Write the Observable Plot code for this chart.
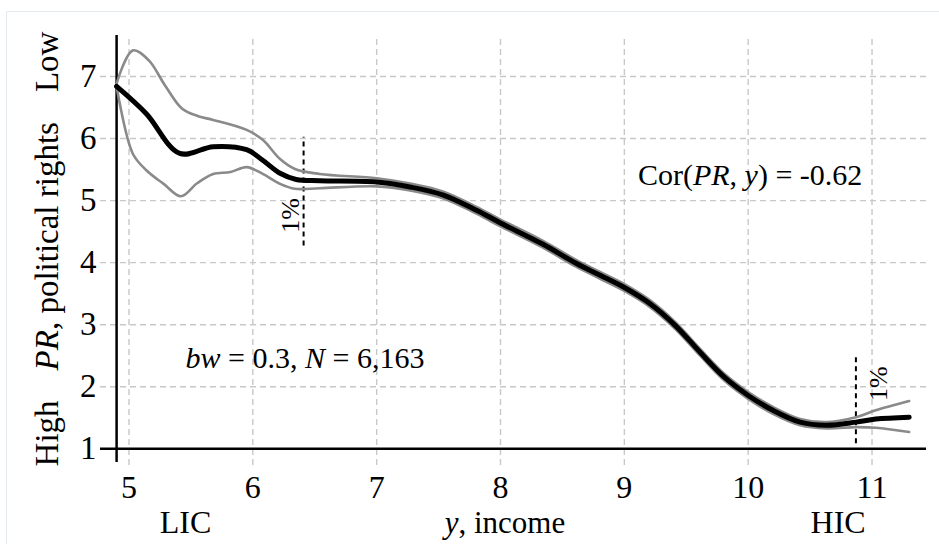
<!DOCTYPE html>
<html>
<head>
<meta charset="utf-8">
<script src="https://cdn.jsdelivr.net/npm/d3@7"></script>
<script src="https://cdn.jsdelivr.net/npm/@observablehq/plot@0.6"></script>
<style>
  html, body { margin: 0; padding: 0; background: #fff; }
  #wrap { position: relative; width: 939px; height: 544px; overflow: hidden; }
  #border { position: absolute; left: 6px; top: 11px; width: 1000px; height: 600px;
            border: 1.5px solid #e4eaee; box-sizing: border-box; }
  #chart { position: absolute; left: 0; top: 0; }
  #chart svg, #chart svg text { font-family: "Liberation Serif", "Times New Roman", serif !important; }
</style>
</head>
<body>
<div id="wrap"><div id="border"></div><div id="chart"></div></div>
<script>
// ---- data ----
const mainX  = [4.9, 5.14, 5.41, 5.68, 5.95, 6.08, 6.22, 6.35, 6.54, 7.0, 7.27, 7.54, 7.81, 8.0, 8.34, 8.61, 8.80, 9.0, 9.2, 9.41, 9.61, 9.81, 10.0, 10.2, 10.42, 10.63, 10.87, 11.03, 11.30];
const mainY  = [6.84, 6.40, 5.76, 5.87, 5.82, 5.65, 5.44, 5.34, 5.32, 5.30, 5.22, 5.09, 4.84, 4.64, 4.30, 3.99, 3.80, 3.60, 3.35, 2.99, 2.56, 2.15, 1.86, 1.62, 1.43, 1.38, 1.43, 1.48, 1.51];
const upperX = [4.9, 5.03, 5.16, 5.29, 5.43, 5.56, 5.68, 5.95, 6.08, 6.22, 6.34, 6.54, 7.0, 7.27, 7.54, 7.81, 8.0, 8.34, 8.61, 8.80, 9.0, 9.2, 9.41, 9.61, 9.81, 10.0, 10.2, 10.42, 10.63, 10.87, 11.03, 11.30];
const upperY = [6.89, 7.42, 7.26, 6.86, 6.48, 6.36, 6.30, 6.14, 5.98, 5.67, 5.51, 5.43, 5.36, 5.275, 5.145, 4.895, 4.695, 4.355, 4.045, 3.855, 3.655, 3.405, 3.045, 2.615, 2.205, 1.915, 1.675, 1.48, 1.43, 1.51, 1.62, 1.77];
const lowerX = [4.9, 5.03, 5.14, 5.28, 5.42, 5.55, 5.68, 5.82, 5.95, 6.08, 6.22, 6.34, 6.54, 7.0, 7.27, 7.54, 7.81, 8.0, 8.34, 8.61, 8.80, 9.0, 9.2, 9.41, 9.61, 9.81, 10.0, 10.2, 10.42, 10.63, 10.87, 11.03, 11.30];
const lowerY = [6.84, 5.76, 5.49, 5.27, 5.07, 5.28, 5.43, 5.46, 5.54, 5.43, 5.27, 5.19, 5.20, 5.23, 5.165, 5.035, 4.785, 4.585, 4.245, 3.935, 3.745, 3.545, 3.295, 2.935, 2.505, 2.095, 1.805, 1.565, 1.38, 1.33, 1.35, 1.34, 1.27];

const xTicks = [5, 6, 7, 8, 9, 10, 11];
const yTicks = [1, 2, 3, 4, 5, 6, 7];

// 1% cut-off markers: x position, y from, y to
const cutX    = [6.41, 10.87];
const cutY1   = [4.27, 1.08];
const cutY2   = [6.02, 2.50];
const cutLabX = [6.37, 11.12];
const cutLabY = [4.76, 2.05];
const cutLabel = ["1%", "1%"];

// scale extents
const xDomain = [4.77, 11.44];
const yDomain = [0.731, 7.661];
const xAxisStart = 4.9;   // where the y axis line sits
const yAxisBottom = 0.78;

const toPts = (xs, ys) => xs.map((x, i) => ({x, y: ys[i]}));
const main = toPts(mainX, mainY);
const upper = toPts(upperX, upperY);
const lower = toPts(lowerX, lowerY);
const cuts = cutX.map((x, i) => ({x, y1: cutY1[i], y2: cutY2[i], lx: cutLabX[i], ly: cutLabY[i], t: cutLabel[i]}));

const FONT = "'Liberation Serif', 'Times New Roman', serif";
const grid = {stroke: "#c8c8c8", strokeWidth: 1.4, strokeDasharray: "6,4"};

const plot = Plot.plot({
  width: 939, height: 544,
  marginLeft: 100, marginRight: 13, marginTop: 35, marginBottom: 79,
  style: {fontFamily: FONT, fontSize: "33px", background: "transparent", color: "#000"},
  x: {domain: xDomain},
  y: {domain: yDomain},
  marks: [
    Plot.ruleX(xTicks, {x: d => d, y1: yDomain[0], y2: yDomain[1], ...grid}),
    Plot.ruleY(yTicks, {y: d => d, x1: xDomain[0], x2: xDomain[1], ...grid}),
    Plot.axisX({ticks: xTicks, tickFormat: "d", tickSize: 0, tickPadding: 10, label: null, fontSize: 32}),
    Plot.axisY({ticks: yTicks, tickFormat: "d", tickSize: 0, tickPadding: 4, label: null, fontSize: 33}),
    Plot.ruleY([1], {x1: xDomain[0], x2: xDomain[1], stroke: "#000", strokeWidth: 2.5}),
    Plot.ruleX([xAxisStart], {y1: yAxisBottom, y2: yDomain[1], stroke: "#000", strokeWidth: 2.5}),
    Plot.ruleX(cuts, {x: "x", y1: "y1", y2: "y2", stroke: "#000", strokeWidth: 2, strokeDasharray: "5,4"}),
    Plot.text(cuts, {x: "lx", y: "ly", text: "t", rotate: -90, fontSize: 26, textAnchor: "middle", lineAnchor: "bottom", fill: "#000"}),
    Plot.line(upper, {x: "x", y: "y", stroke: "#8a8a8a", strokeWidth: 2.6, curve: "catmull-rom"}),
    Plot.line(lower, {x: "x", y: "y", stroke: "#8a8a8a", strokeWidth: 2.6, curve: "catmull-rom"}),
    Plot.line(main, {x: "x", y: "y", stroke: "#000", strokeWidth: 5, curve: "catmull-rom"})
  ]
});
document.getElementById("chart").appendChild(plot);

// ---- rich text (mixed italic) placed through the plot's scales ----
const sx = v => plot.scale("x").apply(v);
const sy = v => plot.scale("y").apply(v);
const svg = d3.select(plot);
function rich(px, py, parts, {size = 33, anchor = "middle", rotate = 0} = {}) {
  const t = svg.append("text")
    .attr("transform", `translate(${px},${py}) rotate(${rotate})`)
    .attr("text-anchor", anchor)
    .attr("font-family", FONT)
    .attr("font-size", size)
    .attr("fill", "#000");
  parts.forEach(p => {
    const s = t.append("tspan").text(p.t);
    if (p.i) s.attr("font-style", "italic");
    if (p.dx) s.attr("dx", p.dx);
  });
}
// annotations
rich(sx(10.02), sy(5.243), [{t: "Cor("}, {t: "PR", i: 1}, {t: ", "}, {t: "y", i: 1}, {t: ") = -0.62"}], {size: 30});
rich(sx(6.425), sy(2.29), [{t: "bw", i: 1}, {t: " = 0.3, "}, {t: "N", i: 1}, {t: " = 6,163"}], {size: 30});
// x-axis labels
const labBase = 533;
rich(sx(5.46), labBase, [{t: "LIC"}], {size: 32});
rich(sx(8.04), labBase, [{t: "y", i: 1}, {t: ", income"}], {size: 31});
rich(sx(10.73), labBase, [{t: "HIC"}], {size: 32});
// y-axis label
rich(58, 249, [{t: "High"}, {t: "PR", i: 1, dx: 30}, {t: ", political rights"}, {t: "Low", dx: 30}], {rotate: -90});
</script>
</body>
</html>
